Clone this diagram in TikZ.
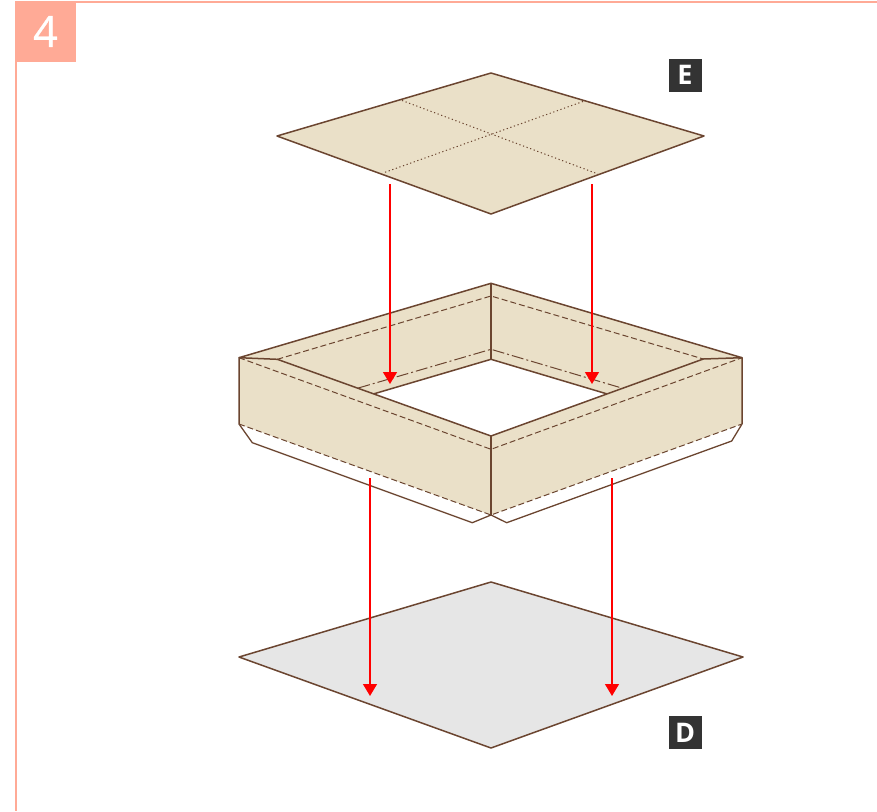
\documentclass[tikz,border=0pt]{standalone}
\usepackage{xcolor}
\usepackage{fontspec}
\usetikzlibrary{arrows.meta}
\setmainfont{Open Sans}
\definecolor{salmon}{HTML}{FFAA96}
\definecolor{board}{HTML}{EAE0C8}
\definecolor{basegrey}{HTML}{E6E6E6}
\definecolor{brownline}{HTML}{6B4530}
\definecolor{tagdark}{HTML}{333333}
\definecolor{arrowred}{HTML}{FF0000}

\begin{document}
\begin{tikzpicture}[
  x=1pt, y=-1pt,
  outline/.style={draw=brownline, line width=1.5pt, line join=round},
  foldline/.style={draw=brownline, line width=1pt, dash pattern=on 6pt off 3pt},
  crease/.style={draw=brownline, line width=1pt, dash pattern=on 12pt off 3pt on 2pt off 3pt},
  score/.style={draw=brownline, line width=1pt, dash pattern=on 1.2pt off 2.6pt},
  droparr/.style={-{Triangle[length=12pt,width=14pt]}, draw=arrowred, fill=arrowred, line width=1.3pt},
  tagbox/.style={fill=tagdark, text=white, font=\fontsize{27}{27}\selectfont\bfseries, minimum size=33pt, inner sep=0pt}
]
\useasboundingbox (0,0) rectangle (877,811);
% frame and step number
\draw[salmon, line width=1.5pt] (877,2) -- (16,2) -- (16,811);
\node[fill=salmon, text=white, font=\fontsize{43}{43}\selectfont\addfontfeatures{FakeBold=0.6}, minimum size=60pt, inner sep=0pt] (stepnum) at (45.5,31.5) {4};
% lid
\filldraw[outline, fill=board] (491,73) -- (704,136) -- (491,214) -- (277,136) -- cycle;
\draw[score] (402,100.5) -- (598,174);
\draw[score] (583,101.5) -- (383,173);
\node[tagbox] (lidtag) at (685,75) {E};
% bottom sheet
\filldraw[outline, fill=basegrey] (491,582) -- (743,657) -- (491,748) -- (239,657) -- cycle;
\node[tagbox] (basetag) at (685,732.5) {D};
% back walls of the tray
\fill[board] (239,357.7) -- (491,283.3) -- (742,357.7) -- (703.3,359) -- (607.3,394) -- (491,359.3) -- (373.3,394) -- (277.3,359.3) -- cycle;
\draw[outline] (239,357.7) -- (491,283.3) -- (742,357.7);
\draw[outline] (373.3,394) -- (491,359.3) -- (607.3,394);
\draw[outline] (491,283.3) -- (491,359.3);
\draw[foldline] (277.3,359.3) -- (491,296) -- (703.3,359);
\draw[crease] (358.3,388) -- (491,349.3) -- (621.7,388);
% flaps under the front walls
\draw[outline, line width=1.3pt] (239,424) -- (252.3,442.7) -- (472.3,522.7) -- (491,515) -- (506.7,522.7) -- (731.7,441) -- (742,424);
% front walls of the tray
\fill[board] (239,357.7) -- (277.3,359.3) -- (491,436) -- (703.3,359) -- (742,357.7) -- (742,424) -- (491,515) -- (239,424) -- cycle;
\draw[outline] (239,424) -- (239,357.7) -- (277.3,359.3) -- (491,436) -- (703.3,359) -- (742,357.7) -- (742,424);
\draw[outline] (491,436) -- (491,515);
\draw[foldline] (239,357.7) -- (491,449.3) -- (742,357.7);
\draw[foldline] (239,424) -- (491,515) -- (742,424);
% arrows
\coordinate (lidL) at (390,184);
\coordinate (lidR) at (592,184);
\coordinate (trayL) at (390,384);
\coordinate (trayR) at (592,384);
\coordinate (flapL) at (370,478);
\coordinate (flapR) at (612,478);
\coordinate (baseL) at (370,696);
\coordinate (baseR) at (612,696);
\draw[droparr] (lidL) -- (trayL);
\draw[droparr] (lidR) -- (trayR);
\draw[droparr] (flapL) -- (baseL);
\draw[droparr] (flapR) -- (baseR);
\end{tikzpicture}
\end{document}
